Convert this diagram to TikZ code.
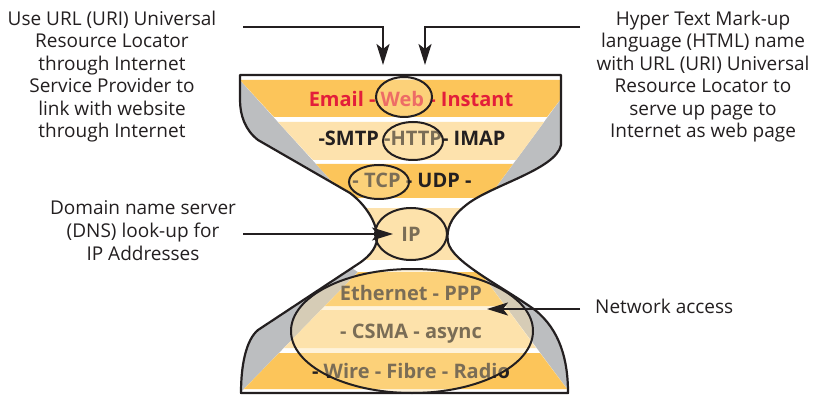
\documentclass[tikz,border=0pt]{standalone}
\usepackage{fontspec}
\setmainfont{Open Sans}
\usetikzlibrary{arrows.meta,shapes.geometric}

\definecolor{bandD}{HTML}{FCC55A}
\definecolor{bandL}{HTML}{FDE2AD}
\definecolor{sidegrey}{HTML}{BCBEC0}
\definecolor{veil}{HTML}{FEE3A8}
\definecolor{ink}{HTML}{231F20}
\definecolor{redtxt}{HTML}{E31E3A}

\newcommand\hourglass{(240,75) -- (561,75) -- (561,145)
  .. controls (556,170) and (488,186) .. (465,206)
  .. controls (450,218) and (446,230) .. (448,242)
  .. controls (452,262) and (500,285) .. (535,310)
  .. controls (560,330) and (568,360) .. (568,393)
  -- (241,393)
  .. controls (241,365) and (246,340) .. (258,330)
  -- (358,264)
  .. controls (372,255) and (378,245) .. (377,235)
  .. controls (376,222) and (366,205) .. (350,193)
  -- (258,140)
  .. controls (245,130) and (240,115) .. (240,100)
  -- cycle}

\begin{document}
\begin{tikzpicture}[x=1pt,y=-1pt,
  arr/.style={draw=ink,line width=2pt,-{Stealth[length=21pt,width=13pt,inset=5pt]}},
  ring/.style={ellipse,draw=ink,line width=2pt,fill=veil,fill opacity=0.4,inner sep=0pt},
  layer/.style={inner sep=0pt,anchor=base,font=\fontsize{20}{22}\selectfont\bfseries},
  note/.style={inner sep=0pt,align=center,text=ink,font=\fontsize{19}{22.5}\selectfont}]
\useasboundingbox (0,0) rectangle (821,395);
%
	% body and layers
	\fill[sidegrey] \hourglass;
	\begin{scope}
		\clip \hourglass;
		\fill[white] (240,75) -- (561,75) -- (560,100) -- (488,198) -- (492,208) -- (492,260)
			-- (480,272) -- (567,389) -- (570,395) -- (238,395) -- (244,389) -- (358,272)
			-- (340,260) -- (340,208) -- (347,198) -- (240,80) -- cycle;
		\fill[bandD] (240,80) -- (560,80) -- (560,100) -- (547,117) -- (274,117) -- cycle;
		\fill[bandL] (278,122) -- (544,122) -- (516,160) -- (313,160) -- cycle;
		\fill[bandD] (316,164) -- (513,164) -- (488,198) -- (347,198) -- cycle;
		\fill[bandL] (330,208) rectangle (500,260);
		\fill[bandD] (358,272) -- (480,272) -- (505,306) -- (325,306) -- cycle;
		\fill[bandL] (321,310) -- (508,310) -- (536,348) -- (284,348) -- cycle;
		\fill[bandD] (279,353) -- (540,353) -- (567,389) -- (244,389) -- cycle;
	\end{scope}
%
	% layer texts
	\node[layer,text=redtxt] (app) at (411,107) {Email - Web - Instant};
	\node[layer,text=ink] (proto) at (412,146) {-SMTP -HTTP- IMAP};
	\node[layer,text=ink] (trans) at (412,188) {- TCP - UDP -};
	\node[layer,text=ink] (net) at (411,242) {IP};
	\node[layer,text=ink] (link) at (411,300) {Ethernet - PPP};
	\node[layer,text=ink] (mac) at (411,338) {- CSMA - async};
	\node[layer,text=ink] (phys) at (411,378) {- Wire - Fibre - Radio};
%
	% rings
	\node[ring,minimum width=56pt,minimum height=40pt] (webring) at (404,97) {};
	\node[ring,minimum width=60pt,minimum height=38pt] (httpring) at (413,141) {};
	\node[ring,minimum width=60pt,minimum height=34pt] (tcpring) at (379,182) {};
	\node[ring,minimum width=72pt,minimum height=52pt] (ipring) at (411,234) {};
	\node[ring,minimum width=242pt,minimum height=124pt] (accring) at (412,331) {};
%
	\draw[ink,line width=2.2pt,line join=round] \hourglass;
%
	% side notes (base = last line)
	\node[note,anchor=base] (useurl) at (112,138) {Use URL (URI) Universal\\Resource Locator\\through Internet\\Service Provider to\\link with website\\through Internet};
	\node[note,anchor=base] (html) at (703,138) {Hyper Text Mark-up\\language (HTML) name\\with URL (URI) Universal\\Resource Locator to\\serve up page to\\Internet as web page};
	\node[note,anchor=base] (dns) at (143,260) {Domain name server\\(DNS) look-up for\\IP Addresses};
	\node[note,anchor=base west] (netacc) at (595,313) {Network access};
%
	\coordinate (urlA) at (243,27);
	\coordinate (urlB) at (383,65);
	\coordinate (htmlA) at (580,27);
	\coordinate (htmlB) at (425,65);
	\coordinate (dnsA) at (243,234);
	\coordinate (accA) at (580,309);
	\coordinate (accB) at (487,309);
	\draw[arr] (urlA) -| (urlB);
	\draw[arr] (htmlA) -| (htmlB);
	\draw[arr,shorten >=18pt] (dnsA) -- (ipring.center);
	\draw[arr] (accA) -- (accB);
\end{tikzpicture}
\end{document}
